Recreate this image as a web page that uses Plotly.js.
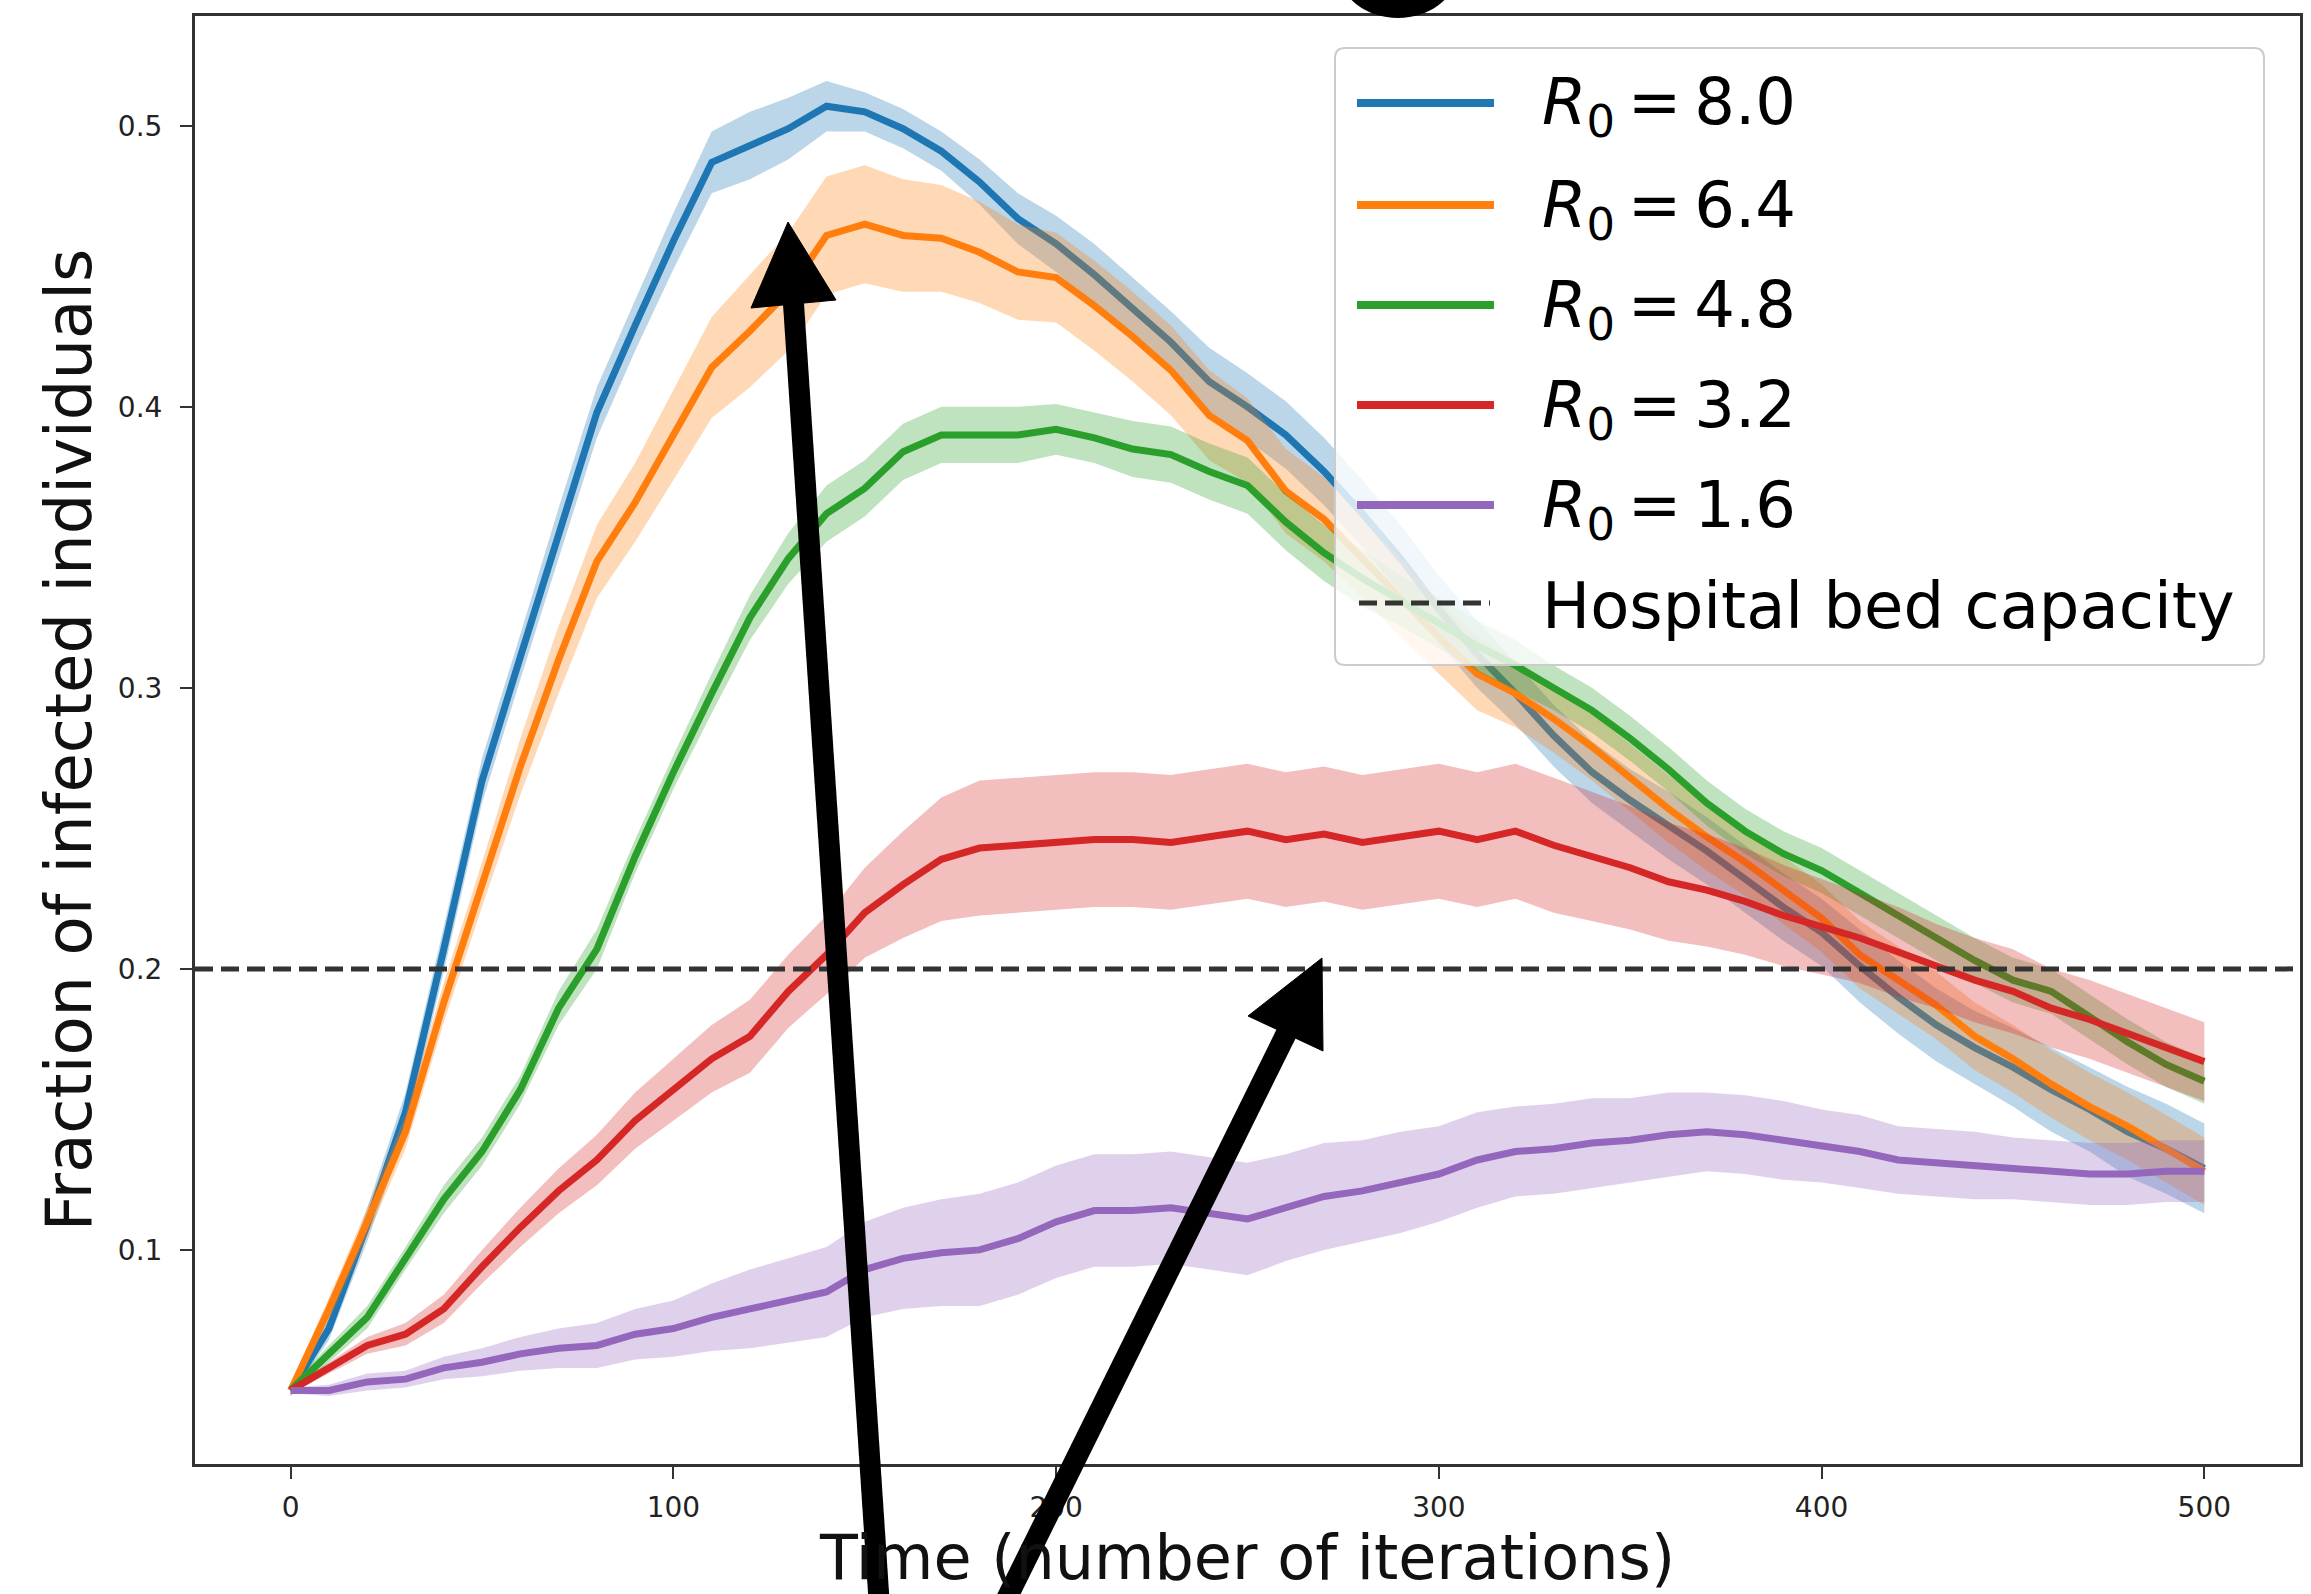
<!DOCTYPE html>
<html>
<head>
<meta charset="utf-8">
<script src="https://cdn.plot.ly/plotly-3.0.1.min.js"></script>
<style>html,body{margin:0;padding:0;background:#fff}#chart{width:2311px;height:1594px}</style>
</head>
<body>
<div id="chart"></div>
<script>
// ---- data ----
const T = [0,10,20,30,40,50,60,70,80,90,100,110,120,130,140,150,160,170,180,190,200,210,220,230,240,250,260,270,280,290,300,310,320,330,340,350,360,370,380,390,400,410,420,430,440,450,460,470,480,490,500];

const r0Labels = ['8.0','6.4','4.8','3.2','1.6'];
const capLabel = 'Hospital bed capacity';
const capValue = 0.2;

const r80Mean = [0.050,0.072,0.109,0.149,0.207,0.267,0.311,0.355,0.398,0.429,0.459,0.487,0.493,0.499,0.507,0.505,0.499,0.491,0.480,0.467,0.458,0.447,0.435,0.423,0.409,0.400,0.390,0.377,0.362,0.346,0.328,0.312,0.298,0.283,0.270,0.260,0.251,0.242,0.232,0.222,0.213,0.201,0.190,0.180,0.172,0.165,0.157,0.150,0.142,0.136,0.129];
const r80Sd   = [0.002,0.004,0.006,0.007,0.008,0.008,0.008,0.009,0.009,0.009,0.010,0.011,0.012,0.011,0.009,0.007,0.007,0.007,0.008,0.009,0.010,0.011,0.011,0.011,0.012,0.012,0.012,0.012,0.012,0.012,0.012,0.012,0.011,0.011,0.011,0.011,0.012,0.012,0.012,0.012,0.012,0.013,0.013,0.013,0.013,0.014,0.015,0.015,0.016,0.016,0.016];

const r64Mean = [0.050,0.079,0.110,0.142,0.188,0.230,0.272,0.310,0.345,0.366,0.390,0.414,0.427,0.441,0.461,0.465,0.461,0.460,0.455,0.448,0.446,0.436,0.425,0.413,0.397,0.388,0.370,0.360,0.346,0.332,0.318,0.305,0.298,0.289,0.279,0.268,0.257,0.247,0.238,0.228,0.218,0.205,0.196,0.187,0.176,0.168,0.159,0.151,0.144,0.136,0.128];
const r64Sd   = [0.002,0.004,0.005,0.006,0.007,0.008,0.010,0.012,0.013,0.014,0.016,0.018,0.020,0.021,0.021,0.021,0.020,0.019,0.018,0.017,0.016,0.016,0.016,0.016,0.016,0.015,0.015,0.015,0.014,0.014,0.013,0.013,0.012,0.012,0.012,0.012,0.012,0.012,0.012,0.012,0.012,0.012,0.012,0.012,0.012,0.012,0.012,0.012,0.012,0.012,0.012];

const r48Mean = [0.050,0.063,0.076,0.097,0.118,0.135,0.157,0.186,0.207,0.240,0.270,0.298,0.325,0.346,0.362,0.371,0.384,0.390,0.390,0.390,0.392,0.389,0.385,0.383,0.377,0.372,0.359,0.348,0.339,0.331,0.323,0.315,0.308,0.300,0.292,0.282,0.271,0.259,0.249,0.241,0.235,0.227,0.219,0.211,0.203,0.196,0.192,0.183,0.174,0.166,0.160];
const r48Sd   = [0.002,0.003,0.004,0.004,0.005,0.005,0.005,0.006,0.007,0.006,0.006,0.007,0.008,0.009,0.010,0.010,0.010,0.010,0.010,0.010,0.009,0.009,0.010,0.010,0.010,0.010,0.010,0.010,0.010,0.009,0.009,0.009,0.009,0.008,0.008,0.008,0.008,0.008,0.008,0.008,0.008,0.008,0.008,0.008,0.008,0.008,0.008,0.008,0.008,0.008,0.008];

const r32Mean = [0.050,0.058,0.066,0.070,0.079,0.094,0.108,0.121,0.132,0.146,0.157,0.168,0.176,0.192,0.205,0.220,0.230,0.239,0.243,0.244,0.245,0.246,0.246,0.245,0.247,0.249,0.246,0.248,0.245,0.247,0.249,0.246,0.249,0.244,0.240,0.236,0.231,0.228,0.224,0.219,0.215,0.211,0.206,0.201,0.196,0.192,0.186,0.182,0.177,0.172,0.167];
const r32Sd   = [0.001,0.002,0.003,0.004,0.005,0.006,0.007,0.008,0.009,0.010,0.011,0.012,0.013,0.013,0.014,0.016,0.019,0.022,0.024,0.024,0.024,0.024,0.024,0.024,0.024,0.024,0.024,0.024,0.024,0.024,0.024,0.024,0.024,0.024,0.023,0.022,0.021,0.020,0.019,0.018,0.017,0.016,0.016,0.015,0.015,0.015,0.014,0.014,0.014,0.014,0.014];

const r16Mean = [0.050,0.050,0.053,0.054,0.058,0.060,0.063,0.065,0.066,0.070,0.072,0.076,0.079,0.082,0.085,0.093,0.097,0.099,0.100,0.104,0.110,0.114,0.114,0.115,0.113,0.111,0.115,0.119,0.121,0.124,0.127,0.132,0.135,0.136,0.138,0.139,0.141,0.142,0.141,0.139,0.137,0.135,0.132,0.131,0.130,0.129,0.128,0.127,0.127,0.128,0.128];
const r16Sd   = [0.001,0.002,0.003,0.003,0.004,0.005,0.006,0.007,0.008,0.009,0.010,0.012,0.014,0.015,0.016,0.017,0.018,0.019,0.020,0.020,0.020,0.020,0.020,0.020,0.020,0.020,0.019,0.019,0.018,0.018,0.017,0.017,0.016,0.016,0.016,0.015,0.015,0.014,0.014,0.014,0.013,0.013,0.012,0.012,0.012,0.011,0.011,0.011,0.011,0.011,0.011];

// ---- styling ----
const colors = ['#1f77b4','#ff7f0e','#2ca02c','#d62728','#9467bd'];
const fills  = ['rgba(31,119,180,0.3)','rgba(255,127,14,0.3)','rgba(44,160,44,0.3)','rgba(214,39,40,0.3)','rgba(148,103,189,0.3)'];
const means = [r80Mean, r64Mean, r48Mean, r32Mean, r16Mean];
const sds   = [r80Sd, r64Sd, r48Sd, r32Sd, r16Sd];
const FONT = 'DejaVu Sans';
const XR = [-25, 525];
const YR = [0.0238, 0.5391];

const traces = [];
means.forEach((m, i) => {
  traces.push({x: T, y: m, type: 'scatter', mode: 'lines', line: {color: colors[i], width: 7}, showlegend: false, hoverinfo: 'skip'});
  const upper = m.map((v, k) => v + sds[i][k]);
  const lower = m.map((v, k) => v - sds[i][k]);
  traces.push({x: T.concat(T.slice().reverse()), y: upper.concat(lower.slice().reverse()),
    type: 'scatter', mode: 'lines', fill: 'toself', fillcolor: fills[i], line: {width: 0, color: fills[i]},
    showlegend: false, hoverinfo: 'skip'});
});
traces.push({x: XR, y: [capValue, capValue], type: 'scatter', mode: 'lines',
  line: {color: '#333333', width: 5, dash: '18px,8px'}, showlegend: false, hoverinfo: 'skip'});

// ---- pixel -> paper helpers for layout decorations ----
const W = 2311, H = 1594, L = 195, R = 2300, TOP = 16, BOT = 1464;
const X = p => (p - L) / (R - L);
const Y = p => (BOT - p) / (BOT - TOP);

function roundRect(x0, y0, x1, y1, r) {
  return `M ${X(x0+r)},${Y(y0)} L ${X(x1-r)},${Y(y0)} Q ${X(x1)},${Y(y0)} ${X(x1)},${Y(y0+r)} ` +
         `L ${X(x1)},${Y(y1-r)} Q ${X(x1)},${Y(y1)} ${X(x1-r)},${Y(y1)} ` +
         `L ${X(x0+r)},${Y(y1)} Q ${X(x0)},${Y(y1)} ${X(x0)},${Y(y1-r)} ` +
         `L ${X(x0)},${Y(y0+r)} Q ${X(x0)},${Y(y0)} ${X(x0+r)},${Y(y0)} Z`;
}
function tri(a, b, c) {
  return `M ${X(a[0])},${Y(a[1])} L ${X(b[0])},${Y(b[1])} L ${X(c[0])},${Y(c[1])} Z`;
}

const shapes = [];
const annotations = [];
// legend frame
shapes.push({type: 'path', xref: 'paper', yref: 'paper', layer: 'above', path: roundRect(1335, 48, 2264, 665, 10),
  fillcolor: 'rgba(255,255,255,0.8)', line: {color: '#cccccc', width: 2}});
const rowY = [103, 205, 305, 405, 505, 603];
r0Labels.forEach((lab, i) => {
  shapes.push({type: 'line', xref: 'paper', yref: 'paper', layer: 'above', x0: X(1357), x1: X(1494), y0: Y(rowY[i]), y1: Y(rowY[i]),
    line: {color: colors[i], width: 8}});
  annotations.push({xref: 'paper', yref: 'paper', x: X(1540), y: Y(rowY[i] + 4), xanchor: 'left', yanchor: 'middle', showarrow: false,
    text: '<i>R</i><sub>0</sub>\u2009=\u2009' + lab, font: {family: FONT, size: 64, color: '#000'}});
});
shapes.push({type: 'line', xref: 'paper', yref: 'paper', layer: 'above', x0: X(1359), x1: X(1490), y0: Y(rowY[5]), y1: Y(rowY[5]),
  line: {color: '#333333', width: 5, dash: '18px,8px'}});
annotations.push({xref: 'paper', yref: 'paper', x: X(1540), y: Y(rowY[5] + 3), xanchor: 'left', yanchor: 'middle', showarrow: false,
  text: capLabel, font: {family: FONT, size: 64, color: '#000'}});

// overlaid black arrows and blob
shapes.push({type: 'line', xref: 'paper', yref: 'paper', layer: 'above', x0: X(879), y0: Y(1600), x1: X(793), y1: Y(296),
  line: {color: '#000', width: 21}});
shapes.push({type: 'path', xref: 'paper', yref: 'paper', layer: 'above', path: tri([788, 222], [751, 308], [836, 300]),
  fillcolor: '#000', line: {color: '#000', width: 1}});
shapes.push({type: 'line', xref: 'paper', yref: 'paper', layer: 'above', x0: X(1006), y0: Y(1600), x1: X(1288), y1: Y(1030),
  line: {color: '#000', width: 21}});
shapes.push({type: 'path', xref: 'paper', yref: 'paper', layer: 'above', path: tri([1322, 958], [1248, 1016], [1323, 1051]),
  fillcolor: '#000', line: {color: '#000', width: 1}});
shapes.push({type: 'circle', xref: 'paper', yref: 'paper', layer: 'above', x0: X(1340), x1: X(1456), y0: Y(-72), y1: Y(18),
  fillcolor: '#000', line: {color: '#000', width: 0}});

const axisCommon = {
  showgrid: false, zeroline: false, showline: true, mirror: true, linecolor: '#333333', linewidth: 3,
  ticks: 'outside', ticklen: 12, tickwidth: 2, tickcolor: '#333333',
  tickfont: {family: FONT, size: 28, color: '#222222'}, automargin: false
};

const layout = {
  width: W, height: H,
  margin: {l: L, r: W - R, t: TOP, b: H - BOT, pad: 0},
  paper_bgcolor: '#ffffff', plot_bgcolor: '#ffffff',
  showlegend: false,
  xaxis: Object.assign({}, axisCommon, {range: XR, tick0: 0, dtick: 100, ticklabelstandoff: 4,
    title: {text: 'Time (number of iterations)', font: {family: FONT, size: 62, color: '#111111'}, standoff: 14}}),
  yaxis: Object.assign({}, axisCommon, {range: YR, tick0: 0, dtick: 0.1, tickformat: '.1f', ticklabelstandoff: 12,
    title: {text: 'Fraction of infected individuals', font: {family: FONT, size: 64, color: '#111111'}, standoff: 6}}),
  shapes: shapes,
  annotations: annotations
};

Plotly.newPlot('chart', traces, layout, {staticPlot: true, displayModeBar: false});
</script>
</body>
</html>
